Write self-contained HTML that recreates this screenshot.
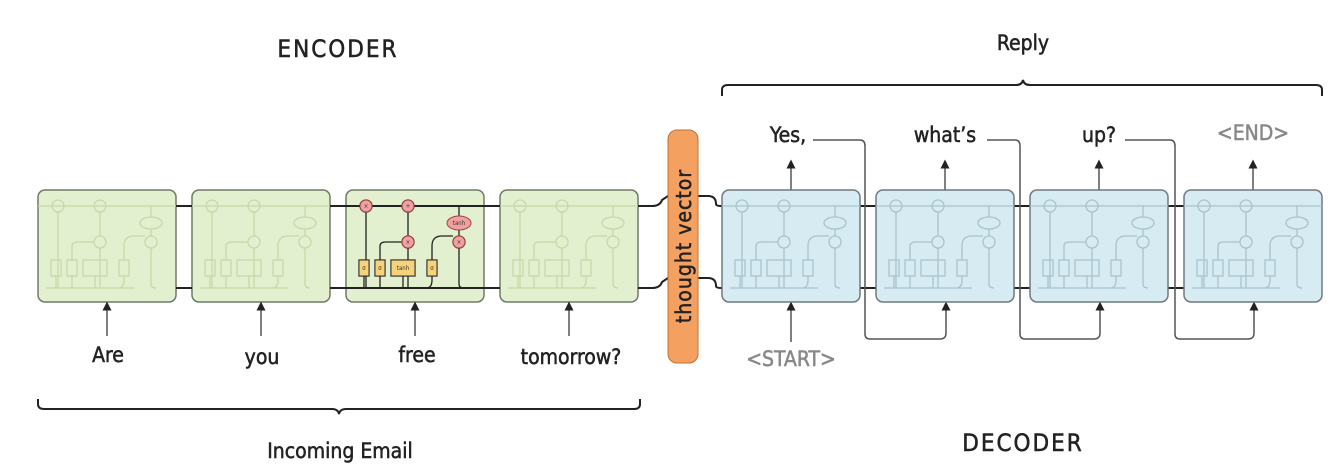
<!DOCTYPE html>
<html><head><meta charset="utf-8"><style>
html,body{margin:0;padding:0;background:#fff;}
svg{display:block;}
text{font-family:"DejaVu Sans Condensed","DejaVu Sans","Liberation Sans",sans-serif;stroke-width:0.5;}
</style></head><body>
<svg width="1341" height="471" viewBox="0 0 1341 471" xmlns="http://www.w3.org/2000/svg">
<defs>
<marker id="ah" markerWidth="6" markerHeight="6" refX="3" refY="3" orient="auto"><path d="M0 0 L6 3 L0 6 Z" fill="#222"/></marker>
<g id="inner" fill="none" stroke-width="1.3">
  <path d="M20 98 V22 M62 98 V58 M62 46 V22 M34 70 V56 Q34 52 40 52 H56 M86 70 V56 Q86 46 96 46 H107 M113 58 V94 Q113 98 118 98 M113 16 V27 M113 39 V46 M8 98 H96 M18 86 V98 M34 86 V98 M57 86 V98 M86 86 V90 Q86 98 80 98"/>
  <circle cx="20" cy="16" r="6"/><circle cx="62" cy="16" r="6"/><circle cx="62" cy="52" r="6"/><circle cx="113" cy="52" r="6"/>
  <ellipse cx="113" cy="33" rx="11" ry="6"/>
  <rect x="13" y="70" width="10" height="16"/><rect x="29" y="70" width="10" height="16"/><rect x="45" y="70" width="24" height="16"/><rect x="81" y="70" width="10" height="16"/>
</g>
<g id="gcell">
  <rect x="0" y="0" width="138" height="112" rx="7" fill="#e3f0cf" stroke="#6f7a66" stroke-width="1.5"/>
  <use href="#inner" stroke="#c9d7a8"/>
  <line x1="0" y1="16" x2="138" y2="16" stroke="#c9d7a8" stroke-width="1.3"/>
</g>
<g id="bcell">
  <rect x="0" y="0" width="138" height="112" rx="7" fill="#d7ebf2" stroke="#6f7a7e" stroke-width="1.5"/>
  <use href="#inner" stroke="#a9c3cc"/>
  <line x1="0" y1="16" x2="138" y2="16" stroke="#a9c3cc" stroke-width="1.3"/>
</g>
</defs>

<use href="#gcell" x="38" y="190"/>
<use href="#gcell" x="192" y="190"/>
<g transform="translate(346,190)">
  <rect x="0" y="0" width="138" height="112" rx="7" fill="#e3f0cf" stroke="#6f7a66" stroke-width="1.5"/>
  <g stroke="#222"><use href="#inner"/></g>
  <line x1="0" y1="16" x2="138" y2="16" stroke="#222" stroke-width="2"/>
  <line x1="0" y1="98" x2="138" y2="98" stroke="#222" stroke-width="2"/>
  <g fill="#f0a0a0" stroke="#a04040" stroke-width="1">
    <circle cx="20" cy="16" r="6"/><circle cx="62" cy="16" r="6"/><circle cx="62" cy="52" r="6"/><circle cx="113" cy="52" r="6"/>
    <ellipse cx="113" cy="33" rx="12" ry="7"/>
  </g>
  <g fill="#f6d27a" stroke="#333" stroke-width="1">
    <rect x="13" y="70" width="10" height="16"/><rect x="29" y="70" width="10" height="16"/><rect x="45" y="70" width="24" height="16"/><rect x="81" y="70" width="10" height="16"/>
  </g>
  <g font-size="6" text-anchor="middle" fill="#333">
    <text x="20" y="18">×</text><text x="62" y="18">+</text><text x="62" y="54">×</text><text x="113" y="54">×</text><text x="113" y="35">tanh</text>
    <text x="18" y="80">σ</text><text x="34" y="80">σ</text><text x="57" y="80">tanh</text><text x="86" y="80">σ</text>
  </g>
</g>
<use href="#gcell" x="500" y="190"/>

<g stroke="#222" stroke-width="2" fill="none">
  <path d="M176 206 H192 M330 206 H346 M484 206 H500 M176 288 H192 M330 288 H346 M484 288 H500"/>
  <path d="M638 206 H652 Q660 206 662 200 L668 196"/>
  <path d="M638 288 H652 Q660 288 662 282 L668 278"/>
  <path d="M698 196 H708 Q716 196 716 204 Q716 206 722 206"/>
  <path d="M698 278 H708 Q716 278 716 286 Q716 288 722 288"/>
  <path d="M860 206 H876 M1014 206 H1030 M1168 206 H1184 M860 288 H876 M1014 288 H1030 M1168 288 H1184"/>
</g>
<g stroke="#555" stroke-width="1.5" fill="none" marker-end="url(#ah)">
  <path d="M107 336 V306"/><path d="M261 336 V306"/><path d="M415 336 V306"/><path d="M569 336 V306"/>
  <path d="M791 342 V306"/>
  <path d="M791 190 V164"/><path d="M945 190 V164"/><path d="M1099 190 V164"/><path d="M1253 190 V164"/>
  <path d="M813 140 H860 Q865 140 865 146 V334 Q865 339 870 339 H940 Q946 339 946 333 V306"/>
  <path d="M987 140 H1015 Q1020 140 1020 146 V334 Q1020 339 1025 339 H1094 Q1100 339 1100 333 V306"/>
  <path d="M1125 140 H1170 Q1175 140 1175 146 V334 Q1175 339 1180 339 H1248 Q1254 339 1254 333 V306"/>
</g>

<use href="#bcell" x="722" y="190"/>
<use href="#bcell" x="876" y="190"/>
<use href="#bcell" x="1030" y="190"/>
<use href="#bcell" x="1184" y="190"/>

<rect x="668" y="130" width="30" height="233" rx="9" fill="#f4a060" stroke="#c07030" stroke-width="1"/>
<text transform="translate(691,246) rotate(-90)" font-size="21" text-anchor="middle" fill="#222" stroke="#222" letter-spacing="1">thought vector</text>

<g stroke="#222" stroke-width="2" fill="none">
  <path d="M722 96 V90 Q722 85 728 85 H1016 Q1022 85 1023 80 Q1024 85 1030 85 H1316 Q1322 85 1322 90 V96"/>
  <path d="M38 399 V404 Q38 409 44 409 H332 Q338 409 339 414 Q340 409 346 409 H634 Q640 409 640 404 V399"/>
</g>

<g font-size="21" fill="#222" stroke="#222" text-anchor="middle">
  <text x="338" y="57" font-size="24" letter-spacing="2">ENCODER</text>
  <text x="1023" y="50">Reply</text>
  <text x="340" y="458">Incoming Email</text>
  <text x="1023" y="451" font-size="24" letter-spacing="2">DECODER</text>
  <text x="108" y="362">Are</text>
  <text x="262" y="364">you</text>
  <text x="417" y="362">free</text>
  <text x="571" y="364">tomorrow?</text>
  <text x="791" y="366" fill="#888" stroke="#888">&lt;START&gt;</text>
  <text x="788" y="142">Yes,</text>
  <text x="945" y="142">what’s</text>
  <text x="1099" y="142">up?</text>
  <text x="1253" y="140" fill="#888" stroke="#888">&lt;END&gt;</text>
</g>
</svg>
</body></html>
